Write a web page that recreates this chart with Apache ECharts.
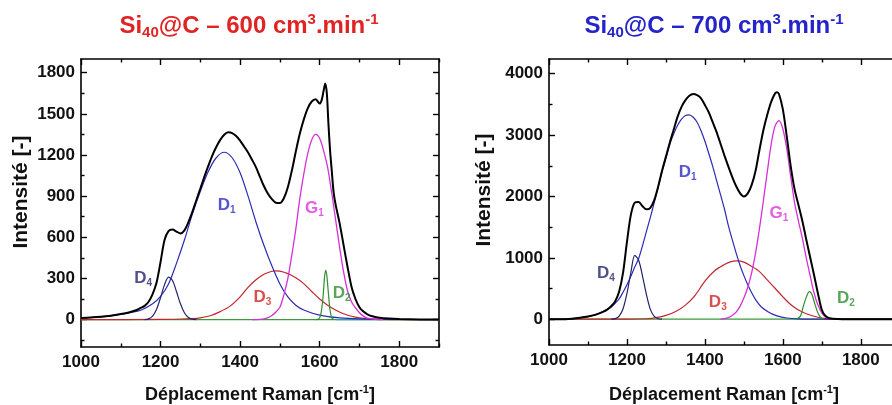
<!DOCTYPE html>
<html><head><meta charset="utf-8">
<script src="https://cdn.jsdelivr.net/npm/echarts@6/dist/echarts.min.js"></script>
<style>html,body{margin:0;padding:0;background:#fff}#c{width:892px;height:405px}</style>
</head><body><div id="c"></div>
<script>
const FONT = 'Arial, "Liberation Sans", sans-serif';

// ---------- Panel A : Si40@C – 600 cm3.min-1 ----------
const a_total = [[1000,12],[1025,15],[1050,20],[1075,28],[1100,40],[1120,52],[1140,70],[1150,85],[1160,100],[1170,130],[1180,185],[1190,270],[1200,420],[1210,580],[1220,645],[1230,656],[1240,642],[1250,628],[1260,650],[1270,710],[1280,785],[1290,870],[1300,955],[1310,1040],[1320,1120],[1330,1195],[1340,1258],[1350,1310],[1360,1348],[1370,1366],[1380,1360],[1390,1338],[1400,1305],[1410,1262],[1420,1218],[1430,1165],[1440,1110],[1450,1040],[1460,972],[1470,918],[1480,878],[1490,852],[1500,850],[1510,885],[1520,965],[1530,1085],[1540,1225],[1550,1355],[1560,1458],[1570,1540],[1580,1590],[1590,1606],[1600,1575],[1605,1600],[1610,1670],[1614,1722],[1618,1650],[1622,1430],[1626,1240],[1630,1100],[1635,930],[1640,840],[1650,705],[1660,545],[1670,385],[1680,240],[1690,150],[1700,90],[1710,58],[1720,38],[1730,26],[1750,14],[1775,7],[1800,4],[1850,1],[1900,0]];
const a_D1 = [[1000,12],[1050,20],[1100,38],[1150,68],[1180,115],[1200,170],[1220,260],[1240,410],[1260,580],[1280,770],[1300,935],[1320,1080],[1340,1180],[1360,1220],[1380,1180],[1400,1070],[1420,900],[1440,710],[1460,540],[1480,390],[1500,260],[1520,165],[1540,105],[1560,70],[1600,32],[1650,12],[1700,5],[1800,1],[1900,0]];
const a_D4 = [[1160,0],[1170,5],[1180,25],[1190,75],[1200,160],[1210,255],[1220,310],[1230,285],[1240,205],[1250,115],[1260,50],[1270,15],[1280,3],[1290,0]];
const a_D3 = [[1000,0],[1200,1],[1250,4],[1275,7],[1300,13],[1325,28],[1350,58],[1375,98],[1400,165],[1420,235],[1440,290],[1460,330],[1480,352],[1490,355],[1500,353],[1520,335],[1540,305],[1560,262],[1580,205],[1600,150],[1620,105],[1640,70],[1660,42],[1680,24],[1700,12],[1720,5],[1750,1],[1800,0],[1900,0]];
const a_G1 = [[1430,0],[1450,2],[1460,5],[1470,14],[1480,30],[1490,55],[1500,90],[1510,180],[1520,300],[1530,470],[1540,660],[1550,880],[1560,1060],[1570,1210],[1580,1310],[1590,1350],[1600,1320],[1610,1230],[1620,1110],[1630,930],[1640,730],[1650,530],[1660,350],[1670,210],[1680,130],[1690,85],[1700,50],[1710,25],[1720,10],[1740,2],[1760,0]];
const a_D2 = [[1590,0],[1598,5],[1603,40],[1608,150],[1612,300],[1615,358],[1618,320],[1622,190],[1626,70],[1630,15],[1635,0]];
const a_base = [[1000,0],[1900,0]];
const a_baseTail = [[1640,0],[1900,0]];
const a_yMajor = [0,300,600,900,1200,1500,1800];
const a_yMinor = [-150,150,450,750,1050,1350,1650];
const a_labels = [['D','4',1156,302,'#23236e'],['D','1',1366,836,'#2b2bc0'],['D','3',1456,163,'#d02424'],['G','1',1587,814,'#dc36dc'],['D','2',1655,193,'#2f8f2f']];

// ---------- Panel B : Si40@C – 700 cm3.min-1 ----------
const b_total = [[1000,0],[1050,5],[1100,45],[1120,75],[1140,125],[1150,160],[1160,215],[1170,295],[1180,450],[1190,760],[1200,1260],[1210,1700],[1220,1900],[1230,1910],[1240,1840],[1250,1790],[1260,1815],[1270,1940],[1280,2160],[1290,2420],[1300,2650],[1310,2880],[1320,3090],[1330,3300],[1340,3460],[1350,3570],[1360,3640],[1370,3668],[1380,3650],[1390,3600],[1400,3490],[1410,3370],[1420,3210],[1430,3050],[1440,2860],[1450,2670],[1460,2490],[1470,2320],[1480,2170],[1490,2055],[1500,2000],[1510,2050],[1520,2190],[1530,2420],[1540,2760],[1550,3080],[1560,3330],[1570,3540],[1580,3680],[1585,3700],[1590,3670],[1600,3420],[1610,2980],[1620,2500],[1630,2120],[1640,1860],[1650,1600],[1660,1300],[1670,1010],[1680,720],[1690,420],[1700,150],[1710,50],[1720,16],[1740,5],[1800,0],[1880,0]];
const b_D1 = [[1000,0],[1050,5],[1100,42],[1120,75],[1140,130],[1160,200],[1170,260],[1180,330],[1190,440],[1200,560],[1210,700],[1220,850],[1230,990],[1240,1200],[1250,1430],[1260,1660],[1270,1900],[1280,2150],[1290,2400],[1300,2620],[1310,2850],[1320,3020],[1330,3160],[1340,3260],[1350,3320],[1360,3330],[1370,3290],[1380,3210],[1390,3070],[1400,2900],[1410,2700],[1420,2490],[1430,2260],[1440,2030],[1450,1800],[1460,1530],[1470,1300],[1480,1080],[1490,880],[1500,710],[1510,560],[1520,430],[1530,320],[1545,200],[1565,110],[1585,55],[1610,20],[1640,5],[1700,0],[1880,0]];
const b_D4 = [[1160,0],[1170,10],[1180,50],[1190,170],[1200,420],[1210,760],[1220,1040],[1230,960],[1240,700],[1250,400],[1260,160],[1270,45],[1280,8],[1290,0]];
const b_D3 = [[1000,0],[1200,0],[1250,8],[1275,25],[1300,62],[1325,125],[1350,230],[1375,390],[1400,620],[1425,790],[1450,890],[1465,935],[1482,950],[1500,930],[1520,860],[1540,776],[1560,640],[1580,505],[1600,365],[1620,240],[1640,150],[1660,90],[1680,48],[1700,20],[1720,6],[1750,1],[1800,0],[1880,0]];
const b_G1 = [[1440,0],[1450,8],[1460,25],[1470,60],[1480,115],[1490,210],[1500,345],[1510,520],[1520,760],[1530,1080],[1540,1480],[1550,1930],[1560,2400],[1570,2850],[1580,3150],[1590,3235],[1600,3100],[1610,2780],[1620,2330],[1630,1900],[1640,1600],[1650,1320],[1660,1000],[1670,710],[1680,430],[1690,230],[1700,100],[1710,32],[1720,10],[1740,0]];
const b_D2 = [[1635,0],[1645,50],[1652,200],[1660,360],[1668,450],[1675,400],[1682,250],[1690,100],[1698,20],[1705,0]];
const b_base = [[1000,0],[1880,0]];
const b_baseTail = [[1700,0],[1880,0]];
const b_yMajor = [0,1000,2000,3000,4000];
const b_yMinor = [500,1500,2500,3500];
const b_labels = [['D','4',1146,756,'#23236e'],['D','1',1356,2400,'#2b2bc0'],['D','3',1433,282,'#d02424'],['G','1',1590,1733,'#dc36dc'],['D','2',1762,347,'#2f8f2f']];

const xMajor = [1000,1200,1400,1600,1800];
const xMinor = [1100,1300,1500,1700,1900];

const AX = '#000';
const tickStyle = {color:AX, width:1.4};
const lineAx = {show:true, onZero:false, lineStyle:{color:AX, width:1.6}};
const labelStyle = {color:'#111', fontFamily:FONT, fontWeight:'bold', fontSize:17, formatter: v => String(v)};

function axesFor(g, xmin, xmax, ymin, ymax, yMaj, yMin, xMargin, showRight) {
  const bx = {type:'value', gridIndex:g, min:xmin, max:xmax, splitLine:{show:false}, axisLine:{show:false, onZero:false}, axisLabel:{show:false}, axisTick:{show:false}};
  const by = {type:'value', gridIndex:g, min:ymin, max:ymax, splitLine:{show:false}, axisLine:{show:false, onZero:false}, axisLabel:{show:false}, axisTick:{show:false}};
  const xs = [
    Object.assign({}, bx, {position:'bottom', axisLine:lineAx, axisTick:{show:true, inside:true, length:6, customValues:xMajor, lineStyle:tickStyle}, axisLabel:Object.assign({show:true, customValues:xMajor, margin:xMargin}, labelStyle)}),
    Object.assign({}, bx, {position:'bottom', axisTick:{show:true, inside:true, length:3.5, customValues:xMinor, lineStyle:tickStyle}}),
    Object.assign({}, bx, {position:'top', axisLine:lineAx, axisTick:{show:true, inside:true, length:6, customValues:xMajor, lineStyle:tickStyle}}),
    Object.assign({}, bx, {position:'top', axisTick:{show:true, inside:true, length:3.5, customValues:xMinor, lineStyle:tickStyle}})
  ];
  const ys = [
    Object.assign({}, by, {position:'left', axisLine:lineAx, axisTick:{show:true, inside:true, length:6, customValues:yMaj, lineStyle:tickStyle}, axisLabel:Object.assign({show:true, customValues:yMaj, margin:6}, labelStyle)}),
    Object.assign({}, by, {position:'left', axisTick:{show:true, inside:true, length:3.5, customValues:yMin, lineStyle:tickStyle}}),
    Object.assign({}, by, {position:'right', axisLine:Object.assign({}, lineAx, {show:showRight}), axisTick:{show:showRight, inside:true, length:6, customValues:yMaj, lineStyle:tickStyle}}),
    Object.assign({}, by, {position:'right', axisTick:{show:showRight, inside:true, length:3.5, customValues:yMin, lineStyle:tickStyle}})
  ];
  return {xs, ys};
}

const A = axesFor(0, 1000, 1900, -200, 1900, a_yMajor, a_yMinor, 7, true);
const B = axesFor(1, 1000, 1880, -420, 4240, b_yMajor, b_yMinor, 7, false);

function line(idx, data, color, width, z) {
  return {type:'line', xAxisIndex:idx, yAxisIndex:idx, data, showSymbol:false, symbol:'none',
    smooth:0.3, lineStyle:{color, width}, z, silent:true, clip:true};
}
function labelSeries(idx, labels) {
  return {type:'scatter', xAxisIndex:idx, yAxisIndex:idx, symbolSize:1, silent:true, z:10,
    itemStyle:{color:'rgba(0,0,0,0)'},
    data: labels.map(l => ({value:[l[2], l[3]], label:{show:true, position:'inside',
      formatter:'{m|' + l[0] + '}{s|' + l[1] + '}',
      rich:{m:{fontSize:17, fontWeight:'bold', fontFamily:FONT, color:l[4], lineHeight:20},
            s:{fontSize:10, fontWeight:'bold', fontFamily:FONT, color:l[4], lineHeight:10, verticalAlign:'bottom'}}}}))
  };
}
function panelSeries(idx, base, tail, tailColor, D3, D1, D4, G1, D2, T, labels, baseColor) {
  return [
    line(idx, base, baseColor, 1.3, 1),
    line(idx, tail, tailColor, 1.3, 1),
    line(idx, D3, '#c3262a', 1.2, 2),
    line(idx, D1, '#2b2bb5', 1.2, 3),
    line(idx, D4, '#23236e', 1.2, 3),
    line(idx, G1, '#d631d6', 1.3, 4),
    line(idx, D2, '#2f8f2f', 1.2, 4),
    line(idx, T, '#000000', 2, 5),
    labelSeries(idx, labels)
  ];
}

function titleRich(fill) {
  return {
    a:{fontSize:24, fontWeight:'bold', fontFamily:FONT, fill, lineHeight:28},
    s:{fontSize:15, fontWeight:'bold', fontFamily:FONT, fill, lineHeight:15, verticalAlign:'bottom'},
    p:{fontSize:15, fontWeight:'bold', fontFamily:FONT, fill, lineHeight:15, verticalAlign:'top'}
  };
}
const axName = {
  a:{fontSize:18, fontWeight:'bold', fontFamily:FONT, fill:'#111', lineHeight:22},
  p:{fontSize:11, fontWeight:'bold', fontFamily:FONT, fill:'#111', lineHeight:11, verticalAlign:'top'}
};
const yName = {a:{fontSize:21, fontWeight:'bold', fontFamily:FONT, fill:'#111'}};
function txt(x, y, text, rich, rot) {
  return {type:'text', x, y, rotation:rot || 0, silent:true,
    style:{text, rich, align:'center', verticalAlign:'middle'}};
}

const chart = echarts.init(document.getElementById('c'), null, {renderer:'canvas'});
chart.setOption({
  animation:false,
  backgroundColor:'#fff',
  grid:[{left:81, top:59, width:358, height:288}, {left:549, top:59, width:343, height:286}],
  xAxis: A.xs.concat(B.xs),
  yAxis: A.ys.concat(B.ys),
  series: panelSeries(0, a_base, a_baseTail, '#2aa5a0', a_D3, a_D1, a_D4, a_G1, a_D2, a_total, a_labels, '#3a9a3a')
    .concat(panelSeries(4, b_base, b_baseTail, '#b02a2a', b_D3, b_D1, b_D4, b_G1, b_D2, b_total, b_labels, '#3a9a3a')),
  graphic:[
    txt(249, 26, '{a|Si}{s|40}{a|@C – 600 cm}{p|3}{a|.min}{p|-1}', titleRich('#e02424')),
    txt(714, 26, '{a|Si}{s|40}{a|@C – 700 cm}{p|3}{a|.min}{p|-1}', titleRich('#2424c8')),
    txt(260, 395, '{a|Déplacement Raman [cm}{p|-1}{a|]}', axName),
    txt(724, 395, '{a|Déplacement Raman [cm}{p|-1}{a|]}', axName),
    txt(21, 192, '{a|Intensité [-]}', yName, Math.PI/2),
    txt(484, 190, '{a|Intensité [-]}', yName, Math.PI/2)
  ]
});
</script></body></html>
